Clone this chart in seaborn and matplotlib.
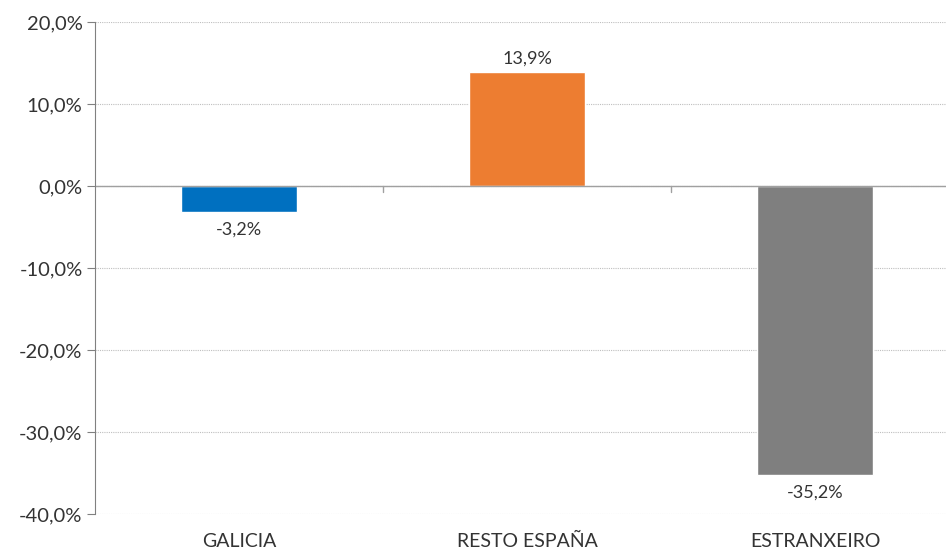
import pandas as pd
import matplotlib.pyplot as plt
import matplotlib.ticker as mticker
import seaborn as sns

# datos
categorias = ['GALICIA', 'RESTO ESPAÑA', 'ESTRANXEIRO']
variacion = [-3.2, 13.9, -35.2]
cores = ['#0070C0', '#ED7D31', '#7F7F7F']

df = pd.DataFrame({'zona': categorias, 'var': variacion})

sns.set_style('white')
plt.rcParams['font.family'] = ['Lato', 'DejaVu Sans']

fig = plt.figure(figsize=(9.46, 5.54), dpi=100)
ax = fig.add_axes([95 / 946, 1 - 514 / 554, 864 / 946, 492 / 554])

sns.barplot(data=df, x='zona', y='var', hue='zona', palette=cores,
            width=0.4, legend=False, ax=ax, saturation=1)

ax.set_ylim(-40, 20)
ax.set_xlim(-0.5, 2.5)
ax.yaxis.set_major_locator(mticker.MultipleLocator(10))
ax.yaxis.set_major_formatter(mticker.FuncFormatter(lambda v, p: f'{v:.1f}%'.replace('.', ',')))
ax.grid(axis='y', color='#BFBFBF', linestyle=(0, (1, 1)), linewidth=0.8)
ax.set_axisbelow(True)

for s in ['top', 'right', 'bottom']:
    ax.spines[s].set_visible(False)
ax.spines['left'].set_color('#808080')
ax.axhline(0, color='#A0A0A0', linewidth=1.0, zorder=1)

# marcas entre categorías no eixo 0
for xb in [0.5, 1.5]:
    ax.plot([xb, xb], [0, -0.7], color='#A0A0A0', linewidth=1.0, clip_on=False)

ax.tick_params(axis='y', which='major', left=True, length=6, color='#808080',
               labelsize=14.5, labelcolor='#333333', pad=3)
ax.tick_params(axis='x', bottom=False, labelsize=14, labelcolor='#333333', pad=10)
ax.set_xticks(range(3))
ax.set_xticklabels(categorias)
ax.set_xlabel('')
ax.set_ylabel('')

for i, v in enumerate(variacion):
    off = 0.7 if v > 0 else -1.2
    ax.text(i, v + off, f'{v:.1f}%'.replace('.', ','), ha='center',
            va='bottom' if v > 0 else 'top', fontsize=13, color='#333333')

fig.savefig('out.png', dpi=100)
